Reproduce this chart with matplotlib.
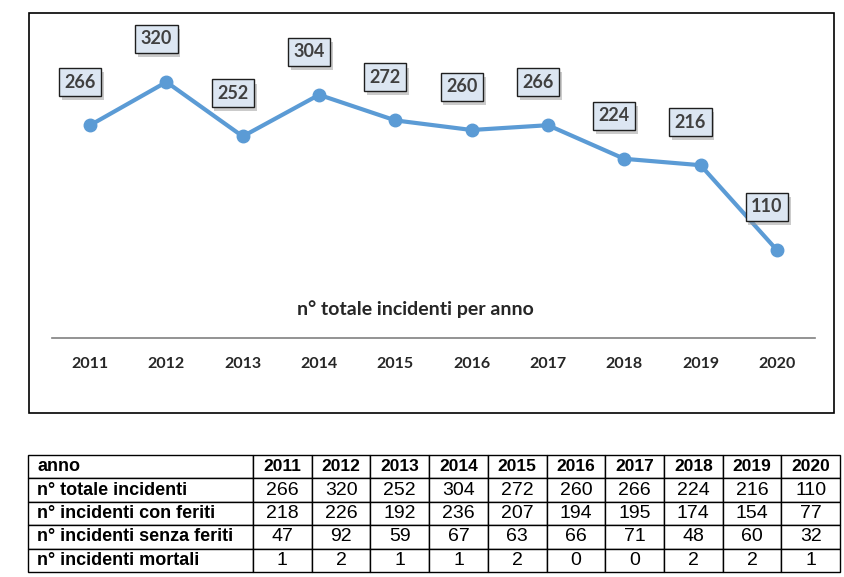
import matplotlib.pyplot as plt
import matplotlib.patheffects as pe
from matplotlib.patches import Rectangle

years = ["2011", "2012", "2013", "2014", "2015", "2016", "2017", "2018", "2019", "2020"]
totale = [266, 320, 252, 304, 272, 260, 266, 224, 216, 110]
con_feriti = [218, 226, 192, 236, 207, 194, 195, 174, 154, 77]
senza_feriti = [47, 92, 59, 67, 63, 66, 71, 48, 60, 32]
mortali = [1, 2, 1, 1, 2, 0, 0, 2, 2, 1]
row_labels = ["n° totale incidenti", "n° incidenti con feriti",
              "n° incidenti senza feriti", "n° incidenti mortali"]

W, H = 845, 577
fig = plt.figure(figsize=(W / 100, H / 100), dpi=100)


def fx(px):
    return px / W


def fy(py):
    return 1 - py / H


# chart frame
fig.patches.append(Rectangle((fx(29), fy(413)), fx(834) - fx(29), fy(13) - fy(413),
                             transform=fig.transFigure, fill=False,
                             edgecolor="black", lw=1.2))

ax = fig.add_axes([fx(52), fy(338), fx(815) - fx(52), fy(18) - fy(338)])
x = list(range(len(years)))
ax.plot(x, totale, color="#5b9bd5", lw=3, marker="o", markersize=9,
        solid_capstyle="round")
ax.set_xlim(-0.5, len(years) - 0.5)
ax.set_ylim(0, 400)
for side in ["top", "right", "left"]:
    ax.spines[side].set_visible(False)
ax.spines["bottom"].set_color("#808080")
ax.spines["bottom"].set_linewidth(1.2)
ax.set_yticks([])
ax.set_xticks(x)
ax.set_xticklabels(years, fontfamily="Lato", fontweight="bold", fontsize=11.5,
                   color="#262626")
ax.tick_params(axis="x", length=0, pad=14)
ax.patch.set_alpha(0)

for xi, v in zip(x, totale):
    t = ax.annotate(str(v), (xi, v), xytext=(-10, 43), textcoords="offset pixels",
                    ha="center", va="center", fontfamily="Lato", fontweight="bold",
                    fontsize=13, color="#404040",
                    bbox=dict(boxstyle="square,pad=0.3", fc="#dce6f2", ec="#1f1f1f", lw=1))
    t.get_bbox_patch().set_path_effects(
        [pe.SimplePatchShadow(offset=(2, -3), shadow_rgbFace="#999999", alpha=0.5), pe.Normal()])

ax.text(0.476, 0.09, "n° totale incidenti per anno", transform=ax.transAxes,
        ha="center", va="center", fontfamily="Lato", fontweight="bold",
        fontsize=14, color="#262626")

# data table
tax = fig.add_axes([fx(28), fy(572), fx(840) - fx(28), fy(455) - fy(572)])
tax.axis("off")
cells = [["anno"] + years]
for lab, vals in zip(row_labels, [totale, con_feriti, senza_feriti, mortali]):
    cells.append([lab] + [str(v) for v in vals])
first_w = (253 - 28) / (840 - 28)
other_w = (1 - first_w) / len(years)
tbl = tax.table(cellText=cells, bbox=[0, 0, 1, 1],
                colWidths=[first_w] + [other_w] * len(years), cellLoc="center")
tbl.auto_set_font_size(False)
for (r, c), cell in tbl.get_celld().items():
    cell.set_linewidth(1)
    cell.set_edgecolor("black")
    txt = cell.get_text()
    txt.set_fontfamily("Liberation Sans")
    if c == 0:
        txt.set_ha("left")
        cell.PAD = 0.04
        txt.set_fontweight("bold")
        txt.set_fontsize(13)
    elif r == 0:
        txt.set_fontweight("bold")
        txt.set_fontsize(12.5)
    else:
        txt.set_fontsize(14)

fig.savefig("out.png", dpi=100)
